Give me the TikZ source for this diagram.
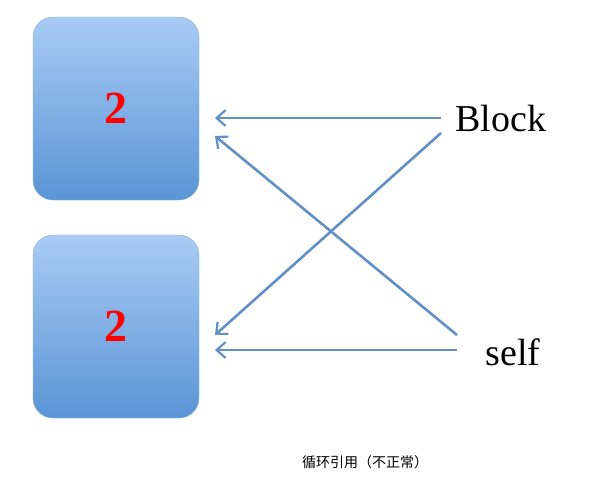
\documentclass[tikz,border=0pt]{standalone}
\usepackage{fontspec}
\setmainfont{Liberation Serif}
\newfontfamily\cjk{Noto Sans CJK SC}
\usetikzlibrary{arrows.meta, positioning}
\definecolor{boxtop}{HTML}{A9CBF5}
\definecolor{boxbot}{HTML}{5A95D6}
\definecolor{boxline}{HTML}{8AB0DC}
\definecolor{refline}{HTML}{6190C4}

\begin{document}
\begin{tikzpicture}[x=1pt, y=-1pt,
    objbox/.style={draw=boxline, rounded corners=20pt, top color=boxtop, bottom color=boxbot,
                   minimum width=166pt, minimum height=183pt, font=\bfseries\fontsize{46}{46}\selectfont, text=red},
    ref/.style={draw=refline, line width=2.6pt, -{Straight Barb[length=9pt, width=16pt, line width=2.2pt]}},
    label/.style={font=\fontsize{38}{38}\selectfont}]
    \useasboundingbox (0,0) rectangle (600,493);
    % objects
    \node[objbox] (upper) at (116,108.5) {2};
    \node[objbox] (lower) at (116,326.5) {2};
    % variables
    \node[label, anchor=west] (block) at (452,118) {Block};
    \node[label, anchor=west] (self) at (482,352) {self};
    \coordinate (b1) at (441,118);
    \coordinate (b2) at (441,133);
    \coordinate (s1) at (457,335);
    \coordinate (s2) at (457,350);
    % references
    \draw[ref] (b1) -- (215,118);
    \draw[ref] (b2) -- (215,335);
    \draw[ref] (s1) -- (215,136);
    \draw[ref] (s2) -- (215,350);
    \node[font=\cjk\fontsize{14}{14}\selectfont] (caption) at (365,462) {循环引用（不正常）};
\end{tikzpicture}
\end{document}
